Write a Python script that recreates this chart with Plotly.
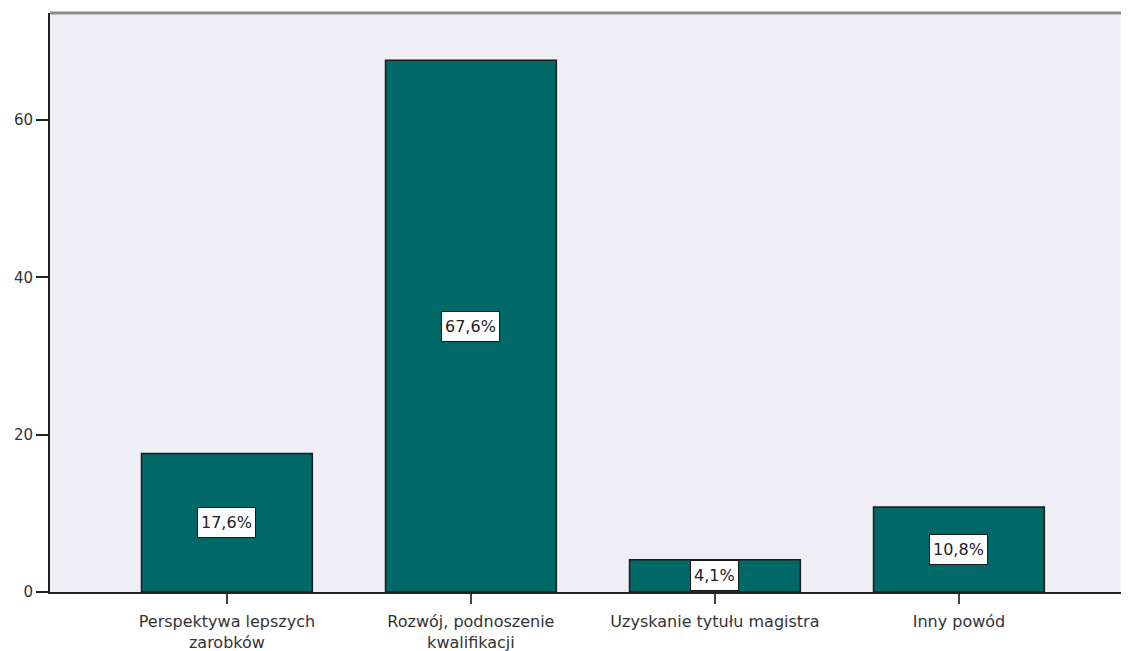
import plotly.graph_objects as go

categories = ["Perspektywa lepszych<br>zarobków", "Rozwój, podnoszenie<br>kwalifikacji",
              "Uzyskanie tytułu magistra", "Inny powód"]
values = [17.6, 67.6, 4.1, 10.8]
labels = ["17,6%", "67,6%", "4,1%", "10,8%"]
y_ticks = [0, 20, 40, 60]

FONT = "DejaVu Sans, Verdana, sans-serif"

fig = go.Figure()
fig.add_trace(go.Bar(
    x=list(range(len(categories))), y=values,
    width=0.70,
    marker=dict(color="#006866", line=dict(color="#1a1a1a", width=1.5)),
    hoverinfo="skip",
))

for i, (v, t) in enumerate(zip(values, labels)):
    fig.add_annotation(
        x=i, y=v / 2, text=t, showarrow=False,
        font=dict(family=FONT, size=16, color="#222"),
        bgcolor="white", bordercolor="#1a1a1a", borderwidth=1, borderpad=3,
        height=23,
    )

fig.update_layout(
    width=1121, height=651,
    margin=dict(l=42, r=0, t=5, b=67),
    paper_bgcolor="white", plot_bgcolor="#EFEEF5",
    showlegend=False,
    font=dict(family=FONT, size=14, color="#333"),
    xaxis=dict(
        tickmode="array", tickvals=list(range(len(categories))), ticktext=categories,
        range=[-0.725, 3.697], showgrid=False, zeroline=False, automargin=False,
        showline=True, linecolor="#222", linewidth=1.5,
        ticks="outside", ticklen=10, tickcolor="#444", tickwidth=1.5,
        ticklabelstandoff=4,
        tickfont=dict(family=FONT, size=16, color="#333"),
    ),
    yaxis=dict(
        range=[0, 73.6], tickvals=y_ticks, showgrid=False, zeroline=False, automargin=False,
        showline=True, linecolor="#222", linewidth=2,
        ticks="outside", ticklen=12, tickcolor="#222", tickwidth=1.5,
        tickfont=dict(family=FONT, size=15, color="#333"),
    ),
    shapes=[dict(type="line", xref="paper", yref="paper", x0=0, x1=1, y0=1, y1=1,
                 line=dict(color="#8a8a8a", width=3))],
)

fig.write_html("out.html")
